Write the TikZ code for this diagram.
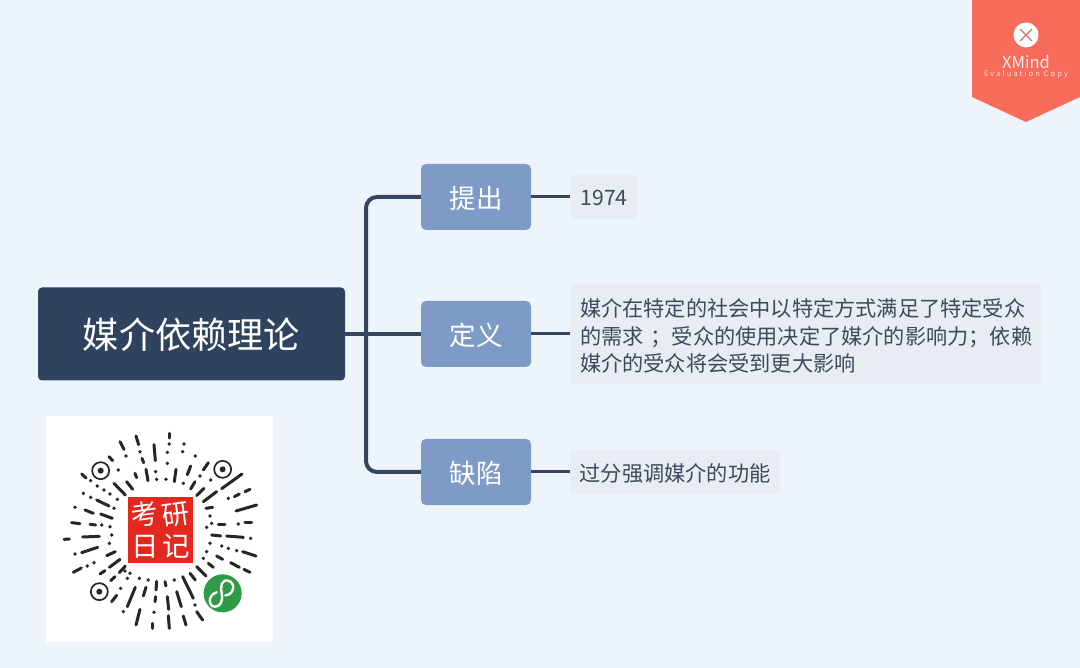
\documentclass[tikz,border=0pt]{standalone}
\usepackage{fontspec}
\setmainfont{Noto Sans CJK SC}
\definecolor{bgc}{HTML}{EEF4FC}
\definecolor{rootc}{HTML}{2F435E}
\definecolor{secc}{HTML}{7D9BC6}
\definecolor{detc}{HTML}{E8ECF3}
\definecolor{txtc}{HTML}{3D4A5C}
\definecolor{linec}{HTML}{37465F}
\definecolor{ribc}{HTML}{F76B5B}
\definecolor{qrc}{HTML}{26262A}
\definecolor{sealc}{HTML}{E3281F}
\definecolor{greenc}{HTML}{2E9B46}
\tikzset{
  secbox/.style={fill=secc,rounded corners=5pt,minimum width=110pt,minimum height=66pt,inner sep=0pt},
  sectext/.style={text=white,font=\fontsize{26.5}{30}\selectfont,inner sep=0pt},
  detbox/.style={fill=detc,rounded corners=4pt,inner sep=0pt},
  dettext/.style={text=txtc,font=\fontsize{21.2}{27.5}\selectfont,inner sep=0pt},
  trunkline/.style={draw=linec,line width=4pt,rounded corners=11pt},
  leafline/.style={draw=linec,line width=3pt},
  qrstroke/.style={draw=qrc,line width=3pt,line cap=round},
  qrdot/.style={fill=qrc},
  sealtext/.style={text=white,font=\fontsize{27.5}{28}\selectfont,inner sep=0pt}
}
\begin{document}
\begin{tikzpicture}[x=1pt,y=-1pt]
\useasboundingbox (0,0) rectangle (1080,668);
\fill[bgc] (0,0) rectangle (1080,668);
% ribbon
\fill[ribc] (972,0) -- (1080,0) -- (1080,97) -- (1026,122) -- (972,97) -- cycle;
\node[circle,fill=white,minimum size=25pt,inner sep=0pt] (logo) at (1026,35) {};
\draw[ribc!75!gray,line width=1.3pt] (logo.center) +(-6,-6) -- +(6,6) (logo.center) +(-6,6) -- +(6,-6);
\node[text=white!88!ribc,font=\fontsize{16.5}{17}\selectfont,inner sep=0pt] (brand) at (1026,62) {XMind};
\node[text=white!80!ribc,font=\fontsize{7.5}{8}\selectfont,inner sep=0pt] (evalcopy) at (1026,74) {\addfontfeature{LetterSpace=28}Evaluation Copy};
% main nodes
\node[fill=rootc,rounded corners=4pt,minimum width=307pt,minimum height=93pt,inner sep=0pt] (root) at (191.5,334) {};
\node[text=white,font=\fontsize{36.2}{38}\selectfont,inner sep=0pt] (roottext) at (191.5,335) {媒介依赖理论};
\node[secbox] (prop) at (476,197) {};
\node[sectext] (propt) at (476,198) {提出};
\node[secbox] (defn) at (476,334) {};
\node[sectext] (defnt) at (476,335) {定义};
\node[secbox] (flaw) at (476,472) {};
\node[sectext] (flawt) at (476,473) {缺陷};
\node[detbox,minimum width=67pt,minimum height=44pt] (d1) at (603.5,197) {};
\node[dettext] (d1t) at (604,198) {1974};
\node[detbox,minimum width=471pt,minimum height=101pt] (d2) at (805.5,334) {};
\node[dettext,align=left,text width=451pt] (d2t) at (805.5,336) {媒介在特定的社会中以特定方式满足了特定受众\\的需求 ；受众的使用决定了媒介的影响力；依赖\\媒介的受众将会受到更大影响};
\node[detbox,minimum width=210pt,minimum height=44pt] (d3) at (675,472) {};
\node[dettext] (d3t) at (675,473) {过分强调媒介的功能};
% connectors
\coordinate (trunk) at (366,334);
\draw[trunkline] (prop.west) -| (trunk) |- (flaw.west);
\draw[draw=linec,line width=4pt] (root.east) -- (defn.west);
\draw[leafline] (prop.east) -- (d1.west);
\draw[leafline] (defn.east) -- (d2.west);
\draw[leafline] (flaw.east) -- (d3.west);
% QR code
\fill[white] (46,416) rectangle (273,642);
\begin{scope}[shift={(40,410)},x=0.33333pt,y=-0.33333pt]
\foreach \a/\b/\c/\d in {388/70/388/84,288/78/296/104,240/95/252/118,342/104/346/152,207/140/218/152,125/192/138/204,306/145/311/158,318/178/324/212,285/190/290/203,222/220/256/255,260/215/278/238,408/178/403/215,452/168/442/194,505/158/490/180,465/215/452/237,492/235/470/257,606/192/545/236,530/245/490/275,630/238/615/245,598/252/583/260,650/285/588/303,170/270/207/288,135/300/160/310,182/312/217/325,95/338/120/341,150/343/167/345,72/388/88/387,128/381/178/379,125/428/173/412,100/487/124/474,200/437/226/425,208/472/240/448,180/492/195/482,238/488/256/468,212/512/225/500,215/575/230/556,262/590/286/532,310/558/318/532,348/540/350/514,345/575/347/560,300/598/288/645,338/640/338/655,382/560/386/598,385/617/388/655,410/545/424/590,428/500/460/565,430/618/438/645,470/605/488/630,375/515/378/528,450/490/466/510,470/470/498/498,505/460/520/472,530/438/548/448,572/458/598/472,612/478/630/487,608/425/648/438,515/375/542/378,560/378/610/382,535/345/555/345,615/338/635/338,498/295/518/292}
  {\draw[qrstroke] (\a,\b) -- (\c,\d);}
\foreach \a/\b in {388/102,382/127,382/160,432/102,428/125,466/138,300/125,258/138,235/180,152/212,172/228,192/240,210/252,232/268,130/250,152/262,105/292,222/295,185/345,210/350,215/375,208/400,105/432,142/468,162/458,347/185,350/208,378/208,430/220,480/198,512/210,565/265,510/318,515/340,595/342,500/352,510/400,545/408,565/415,590/422,500/425,490/445,632/385,270/490,262/505,325/510,403/510,242/535,250/605,342/607,465/585,298/505,255/483}
  {\fill[qrdot] (\a,\b) circle[radius=1.9pt];}
\foreach \a/\b in {182/182,548/178,178/545}
  {\draw[qrc,line width=1.7pt] (\a,\b) circle[radius=8.5pt];
   \fill[qrc] (\a,\b) circle[radius=3pt];}
\fill[sealc] (265,262) rectangle (458,458);
\node[sealtext,rotate=8] (s1) at (315,312) {考};
\node[sealtext,rotate=8] (s2) at (408,316) {研};
\node[sealtext] (s3) at (316,410) {日};
\node[sealtext] (s4) at (408,408) {记};
\fill[greenc] (548,550) circle[radius=19pt];
\draw[white,line width=2.4pt,line cap=round] (556,556) .. controls (580,556) and (590,520) .. (565,512) .. controls (545,507) and (540,530) .. (545,550) .. controls (550,575) and (540,590) .. (525,590) .. controls (505,590) and (502,555) .. (530,547);
\end{scope}
\end{tikzpicture}
\end{document}
